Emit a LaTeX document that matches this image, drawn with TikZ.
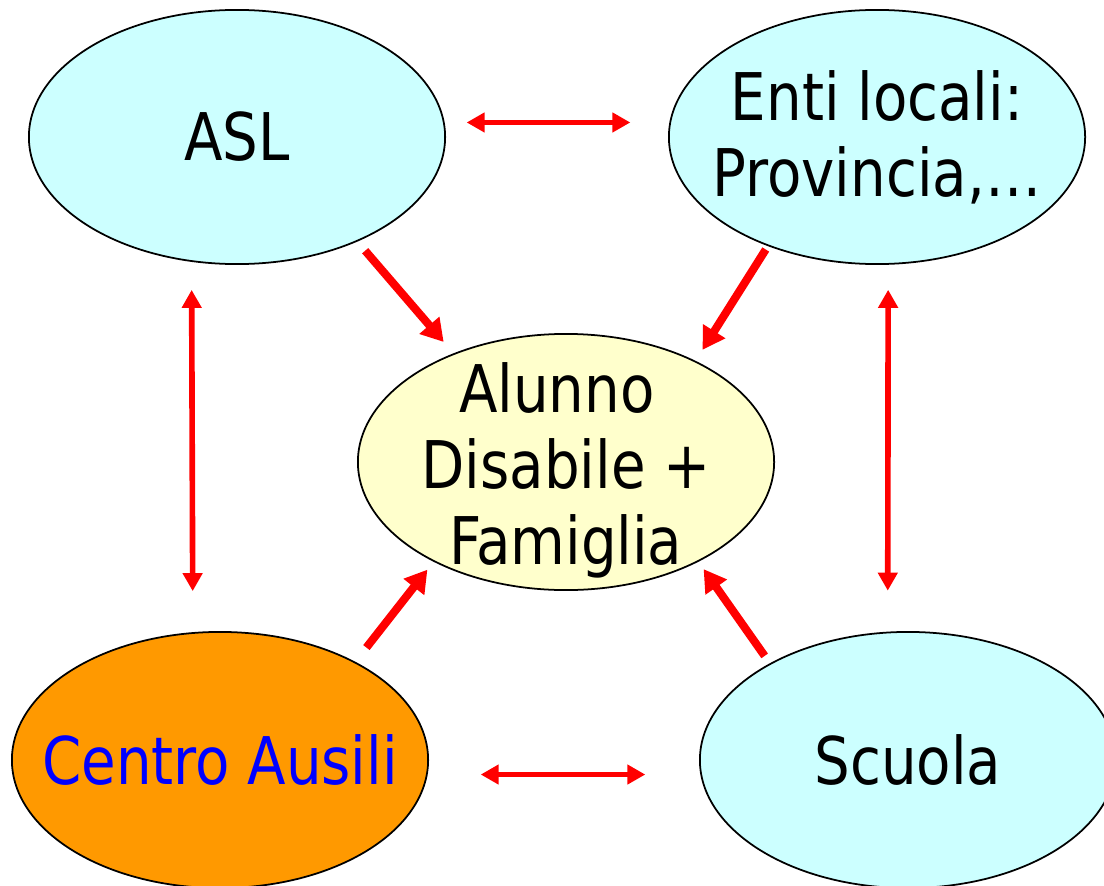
\documentclass[tikz,border=0pt]{standalone}
\usepackage{fontspec}
\setmainfont[FakeStretch=0.95]{DejaVu Sans Condensed}
\usepackage{xcolor}
\usepackage{tikz}
\usetikzlibrary{arrows.meta}
\usetikzlibrary{shapes.geometric}
\definecolor{pale_cyan}{HTML}{CCFFFF}
\definecolor{pale_yellow}{HTML}{FFFFCC}
\definecolor{ausili_orange}{HTML}{FF9900}
\tikzset{
    txt/.style = {align=center, inner sep=0pt, text centered, font=\fontsize{18.7}{21.6}\selectfont},
    bubble/.style = {ellipse, draw=black, line width=0.5pt, inner sep=0pt, minimum width=4.16cm, minimum height=2.54cm},
    cyan_node/.style = {bubble, fill=pale_cyan},
    yellow_node/.style = {bubble, fill=pale_yellow, minimum height=2.56cm},
    orange_node/.style = {bubble, fill=ausili_orange, minimum height=2.56cm},
    both_arrow/.style = {{Triangle[length=0.18cm, width=0.19cm]}-{Triangle[length=0.18cm, width=0.19cm]}, red, line width=1.6pt},
    in_arrow/.style = {-{Triangle[length=0.22cm, width=0.25cm]}, red, line width=2.3pt}
}

\begin{document}
\begin{tikzpicture}[x=0.01cm, y=-0.01cm]

    \useasboundingbox (0,0) rectangle (1104,885);

    \node [cyan_node, label={[txt]center:ASL}] (asl) at (237,137) {};
    \node [cyan_node, label={[txt]center:Enti locali:\\Provincia,…}] (enti) at (877,137) {};
    \node [yellow_node, label={[txt, yshift=-0.08cm]center:Alunno\kern0.18cm\\Disabile +\\Famiglia}] (alunno) at (566,462) {};
    \node [orange_node, label={[txt, text=blue]center:Centro Ausili}] (centro) at (220,760) {};
    \node [cyan_node, minimum height=2.56cm, label={[txt]center:Scuola}] (scuola) at (908,760) {};

    % double arrows round the border
    \draw [both_arrow, shorten <=0.22cm, shorten >=0.39cm] (asl.4) -- (enti.176);
    \draw [both_arrow, shorten <=0.53cm, shorten >=0.55cm] (centro.-4) -- (scuola.184);
    \draw [both_arrow, shorten <=0.28cm, shorten >=0.41cm] (asl.-110) -- (centro.102);
    \draw [both_arrow, shorten <=0.25cm, shorten >=0.41cm] (enti.-85.5) -- (scuola.99.4);

    % arrows into the centre
    \draw [in_arrow, shorten <=0.12cm, shorten >=0.15cm] (asl.-41) -- (alunno.136);
    \draw [in_arrow, shorten <=0.04cm, shorten >=0.13cm] (enti.-135) -- (alunno.38);
    \draw [in_arrow, shorten <=0.18cm, shorten >=0.10cm] (centro.36) -- (alunno.-143);
    \draw [in_arrow, shorten <=0.09cm, shorten >=0.09cm] (scuola.145) -- (alunno.-37);

\end{tikzpicture}
\end{document}
